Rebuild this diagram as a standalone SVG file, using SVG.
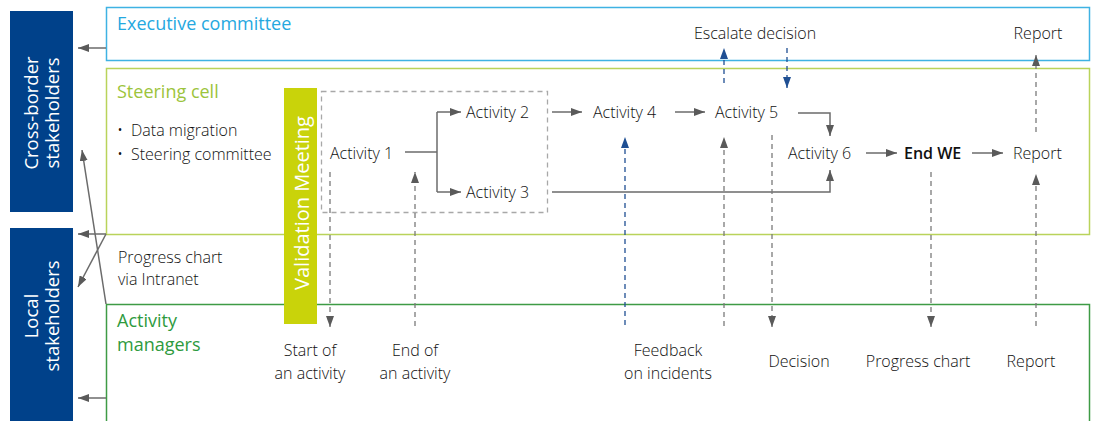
<svg xmlns="http://www.w3.org/2000/svg" width="1096" height="421" viewBox="0 0 1096 421">
  <style>
    text { font-family: "Open Sans", "Noto Sans", "Liberation Sans", sans-serif; }
    .lbl { font-size: 16px; fill: #111111; font-weight: 300; }
    .lbl.strong { font-weight: 600; }
    .mid { text-anchor: middle; }
    .ttl { font-size: 18px; font-weight: 500; }
    .side { font-size: 18.5px; fill: #ffffff; text-anchor: middle; }
    .ln { fill: none; stroke: #6b6b6b; stroke-width: 1.5; }
    .dash { fill: none; stroke: #7a7a7a; stroke-width: 1.3; stroke-dasharray: 5 4; }
    .bdash { fill: none; stroke: #1f4f93; stroke-width: 1.3; stroke-dasharray: 5 4; }
  </style>
  <defs>
    <marker id="ah" markerUnits="userSpaceOnUse" markerWidth="11" markerHeight="8" refX="11" refY="4" orient="auto">
      <path d="M0,0 L11,4 L0,8 z" fill="#5a5a5a"/>
    </marker>
    <marker id="ahb" markerUnits="userSpaceOnUse" markerWidth="11" markerHeight="8" refX="11" refY="4" orient="auto">
      <path d="M0,0 L11,4 L0,8 z" fill="#1f4f93"/>
    </marker>
  </defs>
  <rect width="1096" height="421" fill="#ffffff"/>

  <!-- stakeholder columns -->
  <g id="cross-border">
    <rect x="10" y="11" width="63" height="201" fill="#00418a"/>
    <g transform="translate(41,113) rotate(-90)">
      <text class="side" x="0" y="-3">Cross-border</text>
      <text class="side" x="0" y="18">stakeholders</text>
    </g>
  </g>
  <g id="local">
    <rect x="10" y="228" width="63" height="193" fill="#00418a"/>
    <g transform="translate(41,316) rotate(-90)">
      <text class="side" x="0" y="-3">Local</text>
      <text class="side" x="0" y="18">stakeholders</text>
    </g>
  </g>

  <!-- swimlanes -->
  <g id="executive-committee">
    <rect x="106.5" y="7.5" width="983" height="53" fill="none" stroke="#3fb2e3" stroke-width="1.5"/>
    <text class="ttl" x="117" y="30" fill="#25a8df">Executive committee</text>
  </g>
  <g id="steering-cell">
    <rect x="106.5" y="68.5" width="983" height="166" fill="none" stroke="#b9d35a" stroke-width="1.5"/>
    <text class="ttl" x="117" y="98" fill="#9cc43c">Steering cell</text>
    <text class="lbl" x="117" y="136">•<tspan x="131">Data migration</tspan></text>
    <text class="lbl" x="117" y="160">•<tspan x="131">Steering committee</tspan></text>
  </g>
  <g id="activity-managers">
    <rect x="106.5" y="304.5" width="983" height="130" fill="none" stroke="#3e9b45" stroke-width="1.5"/>
    <text class="ttl" x="117" y="327" fill="#2e9a3e">Activity</text>
    <text class="ttl" x="117" y="351" fill="#2e9a3e">managers</text>
  </g>
  <g id="progress-note">
    <text class="lbl" x="118" y="263">Progress chart</text>
    <text class="lbl" x="118" y="285">via Intranet</text>
  </g>

  <g id="validation-meeting">
    <rect x="284" y="88" width="33" height="236" fill="#c9d30a"/>
    <text transform="translate(309,203) rotate(-90)" x="0" y="0" font-size="20" fill="#ffffff" text-anchor="middle">Validation Meeting</text>
  </g>

  <g id="activity-group">
    <rect x="321.5" y="91.5" width="226" height="121" fill="none" stroke="#a8a8a8" stroke-width="1.3" stroke-dasharray="5 4"/>
  </g>

  <!-- activities -->
  <g id="activity-1"><text class="lbl" x="330" y="159">Activity 1</text></g>
  <g id="activity-2"><text class="lbl" x="466" y="118">Activity 2</text></g>
  <g id="activity-3"><text class="lbl" x="466" y="198">Activity 3</text></g>
  <g id="activity-4"><text class="lbl" x="593" y="118">Activity 4</text></g>
  <g id="activity-5"><text class="lbl" x="715" y="118">Activity 5</text></g>
  <g id="activity-6"><text class="lbl" x="788" y="159">Activity 6</text></g>
  <g id="end-we"><text class="lbl strong" x="904" y="159">End WE</text></g>
  <g id="report-steering"><text class="lbl" x="1013" y="159">Report</text></g>
  <g id="escalate"><text class="lbl mid" x="755" y="39">Escalate decision</text></g>
  <g id="report-exec"><text class="lbl mid" x="1038" y="39">Report</text></g>

  <!-- outputs to activity managers -->
  <g id="out-start"><text class="lbl mid" x="310" y="356">Start of</text><text class="lbl mid" x="310" y="379">an activity</text></g>
  <g id="out-end"><text class="lbl mid" x="415" y="356">End of</text><text class="lbl mid" x="415" y="379">an activity</text></g>
  <g id="out-feedback"><text class="lbl mid" x="668" y="356">Feedback</text><text class="lbl mid" x="668" y="379">on incidents</text></g>
  <g id="out-decision"><text class="lbl mid" x="799" y="367">Decision</text></g>
  <g id="out-progress"><text class="lbl mid" x="918" y="367">Progress chart</text></g>
  <g id="out-report"><text class="lbl mid" x="1031" y="367">Report</text></g>

  <g id="connectors">
    <!-- lanes to stakeholders -->
    <path class="ln" d="M106,48 H78" marker-end="url(#ah)"/>
    <path class="ln" d="M106,234 H78" marker-end="url(#ah)"/>
    <path class="ln" d="M106,398 H78" marker-end="url(#ah)"/>
    <path class="ln" d="M106,304 L82,150" marker-end="url(#ah)"/>
    <path class="ln" d="M106,234 L78,287" marker-end="url(#ah)"/>

    <!-- activity flow -->
    <path class="ln" d="M405,152 H437"/>
    <path class="ln" d="M437,112 V192"/>
    <path class="ln" d="M437,112 H461" marker-end="url(#ah)"/>
    <path class="ln" d="M437,192 H461" marker-end="url(#ah)"/>
    <path class="ln" d="M552,112 H582" marker-end="url(#ah)"/>
    <path class="ln" d="M675,112 H705" marker-end="url(#ah)"/>
    <path class="ln" d="M798,113 H830 V136" marker-end="url(#ah)"/>
    <path class="ln" d="M552,192 H830 V170" marker-end="url(#ah)"/>
    <path class="ln" d="M866,153 H897" marker-end="url(#ah)"/>
    <path class="ln" d="M972,153 H1003" marker-end="url(#ah)"/>

    <!-- escalation -->
    <path class="bdash" d="M724,83 V48" marker-end="url(#ahb)"/>
    <path class="bdash" d="M787,48 V88" marker-end="url(#ahb)"/>
    <path class="dash" d="M1036,132 V55" marker-end="url(#ah)"/>

    <!-- exchanges with activity managers -->
    <path class="dash" d="M330,172 V327" marker-end="url(#ah)"/>
    <path class="dash" d="M415,326 V172" marker-end="url(#ah)"/>
    <path class="bdash" d="M625,325 V137" marker-end="url(#ahb)"/>
    <path class="dash" d="M724,326 V137" marker-end="url(#ah)"/>
    <path class="dash" d="M772,135 V327" marker-end="url(#ah)"/>
    <path class="dash" d="M931,172 V327" marker-end="url(#ah)"/>
    <path class="dash" d="M1036,326 V174" marker-end="url(#ah)"/>
  </g>
</svg>
